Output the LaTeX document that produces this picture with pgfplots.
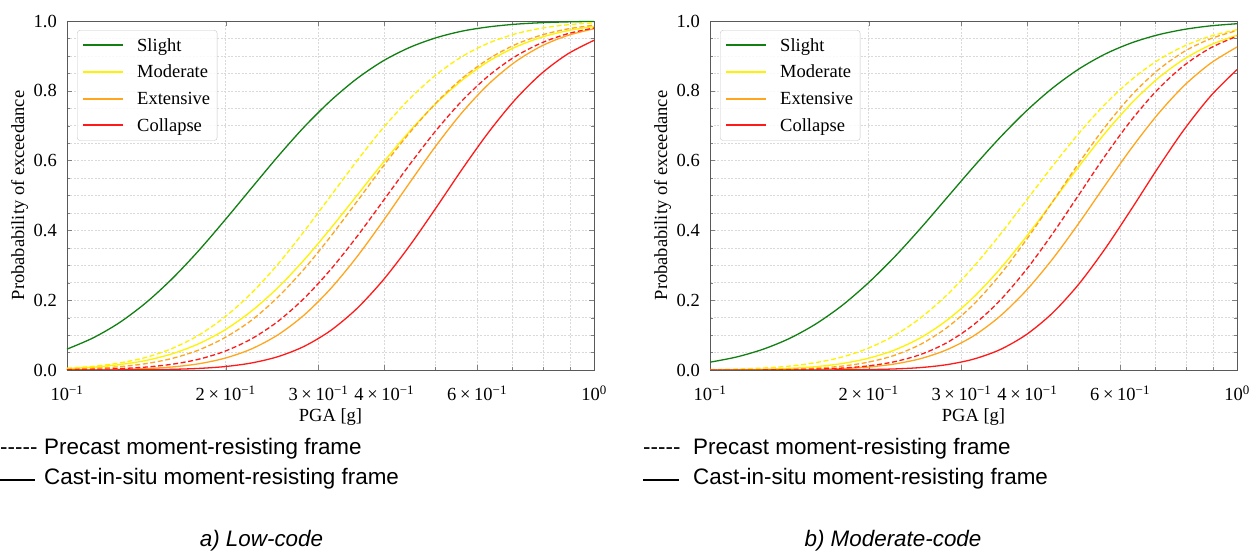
\documentclass[border=0pt]{standalone}
\usepackage{fontspec}
\setmainfont{Liberation Serif}
\newfontfamily\arialfont{Liberation Sans}
\usepackage{pgfplots}
\usepackage{pgfplotstable}
\pgfplotsset{compat=1.18}

\definecolor{cslight}{HTML}{117F11}
\definecolor{cmod}{HTML}{FFF200}
\definecolor{cext}{HTML}{FFA51E}
\definecolor{ccol}{HTML}{FF1A1A}

\pgfplotstableread{
x      sl     mo     ex     co     mod    exd    cod
0.1000 0.0598 0.0041 0.0003 0.0000 0.0052 0.0022 0.0007
0.1122 0.0923 0.0082 0.0007 0.0001 0.0105 0.0047 0.0018
0.1259 0.1362 0.0155 0.0017 0.0003 0.0203 0.0095 0.0040
0.1413 0.1931 0.0273 0.0041 0.0007 0.0362 0.0183 0.0084
0.1585 0.2622 0.0466 0.0088 0.0019 0.0620 0.0333 0.0166
0.1778 0.3420 0.0752 0.0178 0.0045 0.0997 0.0572 0.0308
0.1995 0.4298 0.1150 0.0339 0.0098 0.1521 0.0930 0.0539
0.2239 0.5212 0.1687 0.0603 0.0201 0.2201 0.1423 0.0892
0.2512 0.6115 0.2357 0.1005 0.0381 0.3027 0.2085 0.1390
0.2818 0.6962 0.3154 0.1574 0.0677 0.3971 0.2893 0.2053
0.3162 0.7712 0.4049 0.2325 0.1127 0.4979 0.3819 0.2872
0.3548 0.8347 0.4995 0.3238 0.1759 0.5988 0.4822 0.3818
0.3981 0.8857 0.5943 0.4273 0.2577 0.6937 0.5837 0.4845
0.4467 0.9241 0.6837 0.5361 0.3556 0.7767 0.6796 0.5881
0.5012 0.9518 0.7635 0.6422 0.4641 0.8454 0.7649 0.6858
0.5623 0.9710 0.8307 0.7383 0.5757 0.8984 0.8359 0.7719
0.6310 0.9831 0.8845 0.8192 0.6813 0.9368 0.8913 0.8431
0.7079 0.9907 0.9245 0.8822 0.7738 0.9628 0.9319 0.8976
0.7943 0.9951 0.9531 0.9278 0.8489 0.9792 0.9594 0.9369
0.8913 0.9975 0.9723 0.9585 0.9055 0.9892 0.9773 0.9635
1.0000 0.9988 0.9844 0.9777 0.9446 0.9947 0.9880 0.9799
}\tabA

\pgfplotstableread{
x      sl     mo     ex     co     mod    exd    cod
0.1000 0.0224 0.0004 0.0000 0.0000 0.0012 0.0001 0.0000
0.1122 0.0371 0.0009 0.0001 0.0000 0.0026 0.0003 0.0001
0.1259 0.0591 0.0021 0.0002 0.0000 0.0056 0.0009 0.0003
0.1413 0.0899 0.0047 0.0007 0.0000 0.0110 0.0022 0.0009
0.1585 0.1312 0.0095 0.0016 0.0001 0.0209 0.0051 0.0023
0.1778 0.1840 0.0183 0.0039 0.0004 0.0368 0.0110 0.0054
0.1995 0.2488 0.0333 0.0084 0.0012 0.0621 0.0223 0.0117
0.2239 0.3238 0.0571 0.0172 0.0030 0.0989 0.0420 0.0237
0.2512 0.4067 0.0928 0.0327 0.0070 0.1498 0.0739 0.0446
0.2818 0.4942 0.1428 0.0584 0.0154 0.2155 0.1217 0.0786
0.3162 0.5819 0.2082 0.0975 0.0311 0.2956 0.1876 0.1292
0.3548 0.6655 0.2888 0.1537 0.0581 0.3869 0.2722 0.1988
0.3981 0.7417 0.3815 0.2277 0.1011 0.4852 0.3725 0.2871
0.4467 0.8078 0.4817 0.3180 0.1634 0.5843 0.4821 0.3904
0.5012 0.8625 0.5832 0.4209 0.2464 0.6783 0.5932 0.5023
0.5623 0.9054 0.6792 0.5298 0.3480 0.7621 0.6972 0.6141
0.6310 0.9374 0.7646 0.6362 0.4618 0.8321 0.7874 0.7169
0.7079 0.9603 0.8356 0.7331 0.5790 0.8875 0.8593 0.8044
0.7943 0.9759 0.8910 0.8151 0.6895 0.9282 0.9126 0.8731
0.8913 0.9861 0.9317 0.8790 0.7850 0.9567 0.9493 0.9230
1.0000 0.9922 0.9593 0.9255 0.8608 0.9751 0.9725 0.9564
}\tabB

\newcommand{\tfont}{\fontsize{18.5}{22}\selectfont}
\newcommand{\afont}{\arialfont\fontsize{22.4}{26}\selectfont}
\newcommand{\tl}[1]{#1\hspace{0.2em}×\hspace{0.2em}10\textsuperscript{−1}}

\begin{document}
\begin{tikzpicture}
\useasboundingbox (0pt,0pt) rectangle (1257pt,551pt);

\begin{axis}[
    at={(67pt,181pt)}, anchor=south west,
    scale only axis, width=527pt, height=349pt,
    xmode=log, xmin=0.1, xmax=1, ymin=0, ymax=1,
    xtick={0.1,0.2,0.3,0.4,0.6,1},
    xticklabels={10\textsuperscript{−1},\tl{2},\tl{3},\tl{4},\tl{6},10\textsuperscript{0}},
    minor xtick={0.5,0.7,0.8,0.9},
    ytick={0,0.2,0.4,0.6,0.8,1},
    yticklabels={0.0,0.2,0.4,0.6,0.8,1.0},
    minor ytick={0.05,0.1,0.15,0.25,0.3,0.35,0.45,0.5,0.55,0.65,0.7,0.75,0.85,0.9,0.95},
    grid=both,
    major grid style={black!15, dash pattern=on 2pt off 1.5pt, line width=0.5pt},
    minor grid style={black!15, dash pattern=on 2pt off 1.5pt, line width=0.5pt},
    tick align=inside,
    major tick length=5pt, minor tick length=3pt,
    axis line style={black!65, line width=0.9pt},
    tick label style={font=\tfont},
    xticklabel style={anchor=base, yshift=-31pt, inner sep=0pt},
    yticklabel style={anchor=east, xshift=-10pt, inner sep=0pt},
    xlabel={PGA [g]},
    ylabel={Probabability of exceedance},
    xlabel style={font=\tfont, yshift=-4pt},
    ylabel style={font=\tfont, yshift=2pt},
    legend style={at={(0.019,0.974)}, anchor=north west,
      draw=black!22, rounded corners=3pt, fill=white, fill opacity=0.85, text opacity=1,
      font=\tfont, row sep=8.5pt, inner xsep=5pt, inner ysep=6pt,
      /tikz/every odd column/.style={column sep=11pt}},
    legend cell align=left,
]
  \addlegendimage{legend image code/.code={\draw[draw=cslight, line width=2pt, draw opacity=1] (0pt,0pt) -- (40pt,0pt);}}
  \addlegendentry{Slight}
  \addlegendimage{legend image code/.code={\draw[draw=cmod, line width=2pt, draw opacity=1] (0pt,0pt) -- (40pt,0pt);}}
  \addlegendentry{Moderate}
  \addlegendimage{legend image code/.code={\draw[draw=cext, line width=2pt, draw opacity=1] (0pt,0pt) -- (40pt,0pt);}}
  \addlegendentry{Extensive}
  \addlegendimage{legend image code/.code={\draw[draw=ccol, line width=2pt, draw opacity=1] (0pt,0pt) -- (40pt,0pt);}}
  \addlegendentry{Collapse}
  \addplot[cslight, line width=1.3pt, smooth, no marks, forget plot] table[x=x, y=sl]{\tabA};
  \addplot[cmod, line width=1.3pt, smooth, no marks, forget plot] table[x=x, y=mo]{\tabA};
  \addplot[cext, line width=1.3pt, smooth, no marks, forget plot] table[x=x, y=ex]{\tabA};
  \addplot[ccol, line width=1.3pt, smooth, no marks, forget plot] table[x=x, y=co]{\tabA};
  \addplot[cmod, line width=1.3pt, smooth, no marks, dash pattern=on 5pt off 2.6pt, forget plot] table[x=x, y=mod]{\tabA};
  \addplot[cext, line width=1.3pt, smooth, no marks, dash pattern=on 5pt off 2.6pt, forget plot] table[x=x, y=exd]{\tabA};
  \addplot[ccol, line width=1.3pt, smooth, no marks, dash pattern=on 5pt off 2.6pt, forget plot] table[x=x, y=cod]{\tabA};
\end{axis}

\begin{axis}[
    at={(710pt,181pt)}, anchor=south west,
    scale only axis, width=527pt, height=349pt,
    xmode=log, xmin=0.1, xmax=1, ymin=0, ymax=1,
    xtick={0.1,0.2,0.3,0.4,0.6,1},
    xticklabels={10\textsuperscript{−1},\tl{2},\tl{3},\tl{4},\tl{6},10\textsuperscript{0}},
    minor xtick={0.5,0.7,0.8,0.9},
    ytick={0,0.2,0.4,0.6,0.8,1},
    yticklabels={0.0,0.2,0.4,0.6,0.8,1.0},
    minor ytick={0.05,0.1,0.15,0.25,0.3,0.35,0.45,0.5,0.55,0.65,0.7,0.75,0.85,0.9,0.95},
    grid=both,
    major grid style={black!15, dash pattern=on 2pt off 1.5pt, line width=0.5pt},
    minor grid style={black!15, dash pattern=on 2pt off 1.5pt, line width=0.5pt},
    tick align=inside,
    major tick length=5pt, minor tick length=3pt,
    axis line style={black!65, line width=0.9pt},
    tick label style={font=\tfont},
    xticklabel style={anchor=base, yshift=-31pt, inner sep=0pt},
    yticklabel style={anchor=east, xshift=-10pt, inner sep=0pt},
    xlabel={PGA [g]},
    ylabel={Probabability of exceedance},
    xlabel style={font=\tfont, yshift=-4pt},
    ylabel style={font=\tfont, yshift=2pt},
    legend style={at={(0.019,0.974)}, anchor=north west,
      draw=black!22, rounded corners=3pt, fill=white, fill opacity=0.85, text opacity=1,
      font=\tfont, row sep=8.5pt, inner xsep=5pt, inner ysep=6pt,
      /tikz/every odd column/.style={column sep=11pt}},
    legend cell align=left,
]
  \addlegendimage{legend image code/.code={\draw[draw=cslight, line width=2pt, draw opacity=1] (0pt,0pt) -- (40pt,0pt);}}
  \addlegendentry{Slight}
  \addlegendimage{legend image code/.code={\draw[draw=cmod, line width=2pt, draw opacity=1] (0pt,0pt) -- (40pt,0pt);}}
  \addlegendentry{Moderate}
  \addlegendimage{legend image code/.code={\draw[draw=cext, line width=2pt, draw opacity=1] (0pt,0pt) -- (40pt,0pt);}}
  \addlegendentry{Extensive}
  \addlegendimage{legend image code/.code={\draw[draw=ccol, line width=2pt, draw opacity=1] (0pt,0pt) -- (40pt,0pt);}}
  \addlegendentry{Collapse}
  \addplot[cslight, line width=1.3pt, smooth, no marks, forget plot] table[x=x, y=sl]{\tabB};
  \addplot[cmod, line width=1.3pt, smooth, no marks, forget plot] table[x=x, y=mo]{\tabB};
  \addplot[cext, line width=1.3pt, smooth, no marks, forget plot] table[x=x, y=ex]{\tabB};
  \addplot[ccol, line width=1.3pt, smooth, no marks, forget plot] table[x=x, y=co]{\tabB};
  \addplot[cmod, line width=1.3pt, smooth, no marks, dash pattern=on 5pt off 2.6pt, forget plot] table[x=x, y=mod]{\tabB};
  \addplot[cext, line width=1.3pt, smooth, no marks, dash pattern=on 5pt off 2.6pt, forget plot] table[x=x, y=exd]{\tabB};
  \addplot[ccol, line width=1.3pt, smooth, no marks, dash pattern=on 5pt off 2.6pt, forget plot] table[x=x, y=cod]{\tabB};
\end{axis}

\node[anchor=base west, inner sep=0pt, font=\afont] at (0pt,96pt) {-{}-{}-{}-{}-};
\node[anchor=base west, inner sep=0pt, font=\afont] at (44pt,96pt) {Precast moment-resisting frame};
\draw[line width=1.4pt] (0pt,71pt) -- (35pt,71pt);
\node[anchor=base west, inner sep=0pt, font=\afont] at (44pt,66pt) {Cast-in-situ moment-resisting frame};

\node[anchor=base west, inner sep=0pt, font=\afont] at (643pt,96pt) {-{}-{}-{}-{}-};
\node[anchor=base west, inner sep=0pt, font=\afont] at (693pt,96pt) {Precast moment-resisting frame};
\draw[line width=1.4pt] (643pt,71pt) -- (679pt,71pt);
\node[anchor=base west, inner sep=0pt, font=\afont] at (693pt,66pt) {Cast-in-situ moment-resisting frame};

\node[anchor=base, inner sep=0pt, font=\afont\itshape] at (261.5pt,5pt) {a) Low-code};
\node[anchor=base, inner sep=0pt, font=\afont\itshape] at (893pt,5pt) {b) Moderate-code};
\end{tikzpicture}
\end{document}
